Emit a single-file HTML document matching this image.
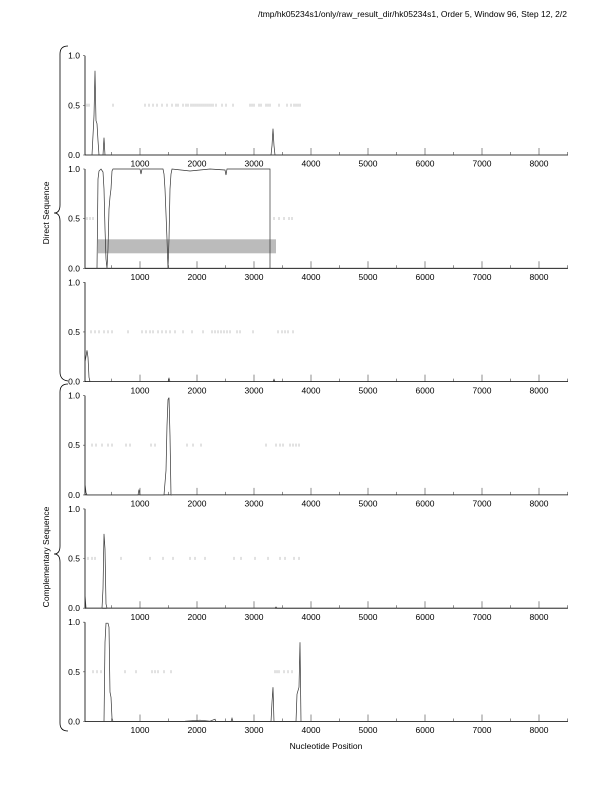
<!DOCTYPE html>
<html><head><meta charset="utf-8"><style>
body{margin:0;background:#fff}
svg{display:block;font-family:"Liberation Sans",sans-serif}
text{font-size:8.5px;fill:#000}
.ax{stroke:#000;stroke-width:0.8;fill:none}
.tk{stroke:#444;stroke-width:0.6}
.dash{stroke:#888;stroke-width:0.5}
.cv{stroke:#333;stroke-width:0.7;fill:none}
</style></head><body>
<svg width="612" height="792" viewBox="0 0 612 792">
<defs>
<g id="ax">
<path class="ax" d="M85,0V99.3H568"/>
<path class="tk" d="M83,0H85M83,49.6H85M83,99.3H85"/>
<path class="tk" d="M111.5,99.3v-3M140,99.3v-7M168.5,99.3v-3M197,99.3v-7M225.5,99.3v-3M254,99.3v-7M282.5,99.3v-3M311,99.3v-7M339.5,99.3v-3M368,99.3v-7M396.5,99.3v-3M425,99.3v-7M453.5,99.3v-3M482,99.3v-7M510.5,99.3v-3M539,99.3v-7M567.5,99.3v-3"/>
</g>
</defs>
<text x="567" y="17" text-anchor="end">/tmp/hk05234s1/only/raw_result_dir/hk05234s1, Order 5, Window 96, Step 12, 2/2</text>

<g transform="translate(0,55.7)"><use href="#ax"/>
<text x="80" y="3" text-anchor="end">1.0</text><text x="80" y="52.6" text-anchor="end">0.5</text><text x="80" y="102.3" text-anchor="end">0.0</text>
<text x="140" y="111" text-anchor="middle">1000</text><text x="197" y="111" text-anchor="middle">2000</text><text x="254" y="111" text-anchor="middle">3000</text><text x="311" y="111" text-anchor="middle">4000</text><text x="368" y="111" text-anchor="middle">5000</text><text x="425" y="111" text-anchor="middle">6000</text><text x="482" y="111" text-anchor="middle">7000</text><text x="539" y="111" text-anchor="middle">8000</text>
<path class="dash" d="M87,48v3M89,48v3M113,48v3M145,48v3M149,48v3M153,48v3M157,48v3M162,48v3M167,48v3M172,48v3M176,48v3M178,48v3M183,48v3M186,48v3M188,48v3M191,48v3M193,48v3M195,48v3M197,48v3M199,48v3M201,48v3M203,48v3M205,48v3M207,48v3M209,48v3M211,48v3M213,48v3M216,48v3M222,48v3M226,48v3M233,48v3M250,48v3M252,48v3M254,48v3M259,48v3M261,48v3M266,48v3M268,48v3M270,48v3M279,48v3M287,48v3M291,48v3M294,48v3M296,48v3M298,48v3M300,48v3"/>
<path class="cv" d="M92,99.3L94,60L95,15L96,65L97,68L98,85L99,99.3L103,99.3L104,82L105,99.3L271,99.3L272,90L273,73L274,90L275,99.3L290,99.3"/>
</g>

<g transform="translate(0,169)"><use href="#ax"/>
<text x="80" y="3" text-anchor="end">1.0</text><text x="80" y="52.6" text-anchor="end">0.5</text><text x="80" y="102.3" text-anchor="end">0.0</text>
<text x="140" y="111" text-anchor="middle">1000</text><text x="197" y="111" text-anchor="middle">2000</text><text x="254" y="111" text-anchor="middle">3000</text><text x="311" y="111" text-anchor="middle">4000</text><text x="368" y="111" text-anchor="middle">5000</text><text x="425" y="111" text-anchor="middle">6000</text><text x="482" y="111" text-anchor="middle">7000</text><text x="539" y="111" text-anchor="middle">8000</text>
<rect x="98" y="70.3" width="178" height="14" fill="#bbb"/>
<path class="dash" d="M87,48v3M90,48v3M93,48v3M274,48v3M279,48v3M284,48v3M289,48v3M292,48v3"/>
<path class="cv" d="M97,99.3L98,10L99,2L101,0L103,3L104,20L105,60L106,90L107,99.3L108,80L109,40L110,28L111,20L112,2L113,0L140,0L141,5L142,0L163,0L164,5L165,20L167,70L168,99.3L169,70L170,20L171,5L172,0L190,2L210,0L225,1L226,6L227,0L270,0L270,99.3"/>
</g>

<g transform="translate(0,282.3)"><use href="#ax"/>
<text x="80" y="3" text-anchor="end">1.0</text><text x="80" y="52.6" text-anchor="end">0.5</text><text x="80" y="102.3" text-anchor="end">0.0</text>
<text x="140" y="111" text-anchor="middle">1000</text><text x="197" y="111" text-anchor="middle">2000</text><text x="254" y="111" text-anchor="middle">3000</text><text x="311" y="111" text-anchor="middle">4000</text><text x="368" y="111" text-anchor="middle">5000</text><text x="425" y="111" text-anchor="middle">6000</text><text x="482" y="111" text-anchor="middle">7000</text><text x="539" y="111" text-anchor="middle">8000</text>
<path class="dash" d="M91,48v3M95,48v3M99,48v3M104,48v3M108,48v3M112,48v3M128,48v3M142,48v3M146,48v3M150,48v3M153,48v3M158,48v3M162,48v3M166,48v3M170,48v3M175,48v3M183,48v3M192,48v3M203,48v3M212,48v3M215,48v3M218,48v3M221,48v3M224,48v3M227,48v3M230,48v3M237,48v3M240,48v3M253,48v3M278,48v3M282,48v3M285,48v3M288,48v3M293,48v3"/>
<path class="cv" d="M85,80L87,68L88,75L89,95L90,99.3L168,99.3L169,96L170,99.3L273,99.3L274,97L275,99.3"/>
</g>

<g transform="translate(0,395.6)"><use href="#ax"/>
<text x="80" y="3" text-anchor="end">1.0</text><text x="80" y="52.6" text-anchor="end">0.5</text><text x="80" y="102.3" text-anchor="end">0.0</text>
<text x="140" y="111" text-anchor="middle">1000</text><text x="197" y="111" text-anchor="middle">2000</text><text x="254" y="111" text-anchor="middle">3000</text><text x="311" y="111" text-anchor="middle">4000</text><text x="368" y="111" text-anchor="middle">5000</text><text x="425" y="111" text-anchor="middle">6000</text><text x="482" y="111" text-anchor="middle">7000</text><text x="539" y="111" text-anchor="middle">8000</text>
<path class="dash" d="M92,48v3M96,48v3M102,48v3M108,48v3M112,48v3M126,48v3M130,48v3M151,48v3M155,48v3M187,48v3M193,48v3M201,48v3M266,48v3M276,48v3M280,48v3M283,48v3M290,48v3M293,48v3M296,48v3M299,48v3"/>
<path class="cv" d="M85,88L86,97L87,99.3L138,99.3L139,94L140,99.3L164,99.3L166,75L167,30L168,4L169,2L170,40L171,99.3L172,99.3"/>
</g>

<g transform="translate(0,508.9)"><use href="#ax"/>
<text x="80" y="3" text-anchor="end">1.0</text><text x="80" y="52.6" text-anchor="end">0.5</text><text x="80" y="102.3" text-anchor="end">0.0</text>
<text x="140" y="111" text-anchor="middle">1000</text><text x="197" y="111" text-anchor="middle">2000</text><text x="254" y="111" text-anchor="middle">3000</text><text x="311" y="111" text-anchor="middle">4000</text><text x="368" y="111" text-anchor="middle">5000</text><text x="425" y="111" text-anchor="middle">6000</text><text x="482" y="111" text-anchor="middle">7000</text><text x="539" y="111" text-anchor="middle">8000</text>
<path class="dash" d="M88,48v3M92,48v3M95,48v3M121,48v3M150,48v3M163,48v3M173,48v3M190,48v3M195,48v3M205,48v3M234,48v3M241,48v3M255,48v3M268,48v3M280,48v3M285,48v3M294,48v3M299,48v3"/>
<path class="cv" d="M85,85L86,99.3L102,99.3L103,80L104,25L105,40L106,95L107,99.3L275,99.3L276,98L277,99.3"/>
</g>

<g transform="translate(0,622.2)"><use href="#ax"/>
<text x="80" y="3" text-anchor="end">1.0</text><text x="80" y="52.6" text-anchor="end">0.5</text><text x="80" y="102.3" text-anchor="end">0.0</text>
<text x="140" y="111" text-anchor="middle">1000</text><text x="197" y="111" text-anchor="middle">2000</text><text x="254" y="111" text-anchor="middle">3000</text><text x="311" y="111" text-anchor="middle">4000</text><text x="368" y="111" text-anchor="middle">5000</text><text x="425" y="111" text-anchor="middle">6000</text><text x="482" y="111" text-anchor="middle">7000</text><text x="539" y="111" text-anchor="middle">8000</text>
<path class="dash" d="M93,48v3M97,48v3M101,48v3M125,48v3M136,48v3M152,48v3M155,48v3M158,48v3M164,48v3M171,48v3M275,48v3M277,48v3M279,48v3M284,48v3M288,48v3M292,48v3"/>
<path class="cv" d="M104,99.3L105,20L106,1L108,1L109,5L110,70L111,75L112,96L113,99.3L185,99L200,98L210,99L215,97L216,99.3L231,99.3L232,96L233,99.3L271,99.3L272,80L273,65L274,99.3L296,99.3L297,72L299,65L300,20L301,99.3"/>
</g>

<path class="ax" stroke-width="0.7" d="M68,46Q60,46 60,54V205Q60,213 54,213Q60,213 60,221V372Q60,380 68,381"/>
<path class="ax" stroke-width="0.7" d="M68,384Q60,384 60,392V546Q60,554 54,554Q60,554 60,562V723Q60,731 68,731"/>
<text transform="translate(49,213) rotate(-90)" text-anchor="middle">Direct Sequence</text>
<text transform="translate(49,557) rotate(-90)" text-anchor="middle">Complementary Sequence</text>
<text x="326" y="749" text-anchor="middle">Nucleotide Position</text>
</svg>
</body></html>
